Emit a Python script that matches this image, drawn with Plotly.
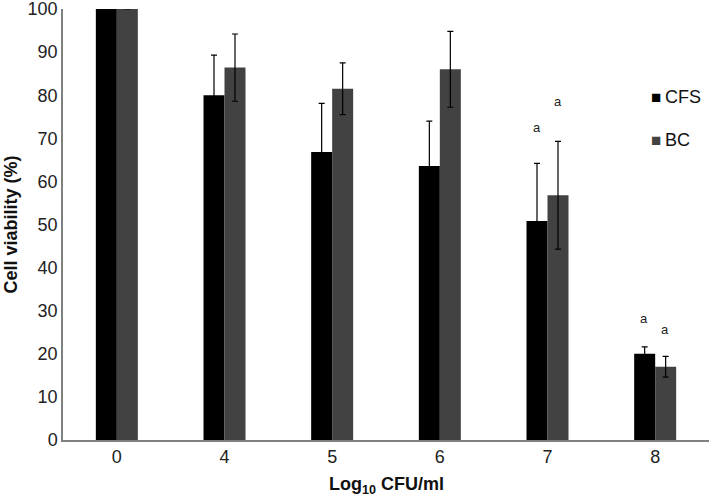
import plotly.graph_objects as go

categories = ["0", "4", "5", "6", "7", "8"]
cfs_values = [100, 80.0, 66.8, 63.6, 50.8, 20.0]
cfs_errors = [0, 9.3, 11.3, 10.4, 13.4, 1.6]
bc_values = [100, 86.4, 81.5, 86.0, 56.8, 17.0]
bc_errors = [0, 7.8, 6.0, 8.8, 12.5, 2.4]
sig_cfs = ["", "", "", "", "a", "a"]
sig_bc = ["", "", "", "", "a", "a"]
sig_cfs_y = [None, None, None, None, 72.5, 28.3]
sig_bc_y = [None, None, None, None, 78.5, 25.7]
series_names = ["CFS", "BC"]
series_colors = ["#000000", "#424242"]
x_title = "<b>Log<sub>10</sub> CFU/ml</b>"
y_title = "<b>Cell viability (%)</b>"

FONT = "Arial, Liberation Sans, sans-serif"

fig = go.Figure()
fig.add_trace(go.Bar(
    x=categories, y=cfs_values, name=series_names[0],
    marker=dict(color=series_colors[0], line=dict(width=0)),
    error_y=dict(type="data", array=cfs_errors, color="#000000", thickness=1.2, width=3),
    showlegend=False,
))
fig.add_trace(go.Bar(
    x=categories, y=bc_values, name=series_names[1],
    marker=dict(color=series_colors[1], line=dict(width=0)),
    error_y=dict(type="data", array=bc_errors, color="#000000", thickness=1.2, width=3),
    showlegend=False,
))

for i, c in enumerate(categories):
    if sig_cfs[i]:
        fig.add_annotation(x=i, y=sig_cfs_y[i], text=sig_cfs[i], showarrow=False,
                           xshift=-11, font=dict(family=FONT, size=13, color="#222"))
    if sig_bc[i]:
        fig.add_annotation(x=i, y=sig_bc_y[i], text=sig_bc[i], showarrow=False,
                           xshift=10, font=dict(family=FONT, size=13, color="#222"))

# legend drawn as text annotations
legend_y = [0.796, 0.697]
for name, col, ly in zip(series_names, series_colors, legend_y):
    fig.add_annotation(
        xref="paper", yref="paper", x=0.9075, y=ly, xanchor="left", yanchor="middle",
        text=f"<span style='font-size:17px;color:{col}'>■</span>\u2009{name}",
        showarrow=False, font=dict(family=FONT, size=18, color="#111"),
    )

# axis titles
fig.add_annotation(xref="paper", yref="paper", x=0.5, y=0, yshift=-45, yanchor="middle",
                   text=x_title, showarrow=False, font=dict(family=FONT, size=18, color="#111"))
fig.add_annotation(xref="paper", yref="paper", x=0, xshift=-53, y=0.5, xanchor="center",
                   yanchor="middle", textangle=-90,
                   text=y_title, showarrow=False, font=dict(family=FONT, size=18, color="#111"))

fig.update_layout(
    width=709, height=497,
    margin=dict(l=63, r=0, t=9, b=57, autoexpand=False),
    paper_bgcolor="white", plot_bgcolor="white",
    barmode="group", bargap=0.61, bargroupgap=0,
    font=dict(family=FONT, size=18, color="#222"),
    showlegend=False,
    xaxis=dict(
        type="category", range=[-0.5, 5.5], automargin=False,
        showline=True, linecolor="#808080", linewidth=1.5, showgrid=False, ticks="",
        tickfont=dict(family=FONT, size=18, color="#222"),
    ),
    yaxis=dict(
        range=[0, 100], automargin=False, showline=True, linecolor="#808080", linewidth=1.5,
        showgrid=False, ticks="", dtick=10, tickfont=dict(family=FONT, size=18, color="#222"),
        ticklabeloverflow="allow", zeroline=False,
    ),
)

fig.write_html("out.html", config={"displayModeBar": False},
               post_script="document.body.style.margin='0';document.body.style.overflow='hidden';")
